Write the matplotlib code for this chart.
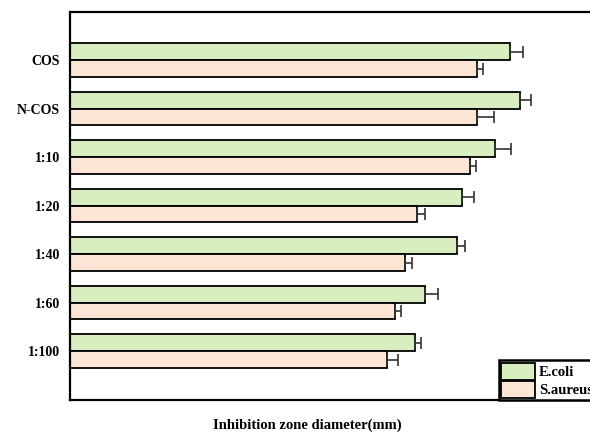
import matplotlib
matplotlib.use("Agg")
import matplotlib.pyplot as plt
import numpy as np

# inhibition zone diameters (mm), mean and SD per sample
samples = ["COS", "N-COS", "1:10", "1:20", "1:40", "1:60", "1:100"]
ecoli = [17.6, 18.0, 17.0, 15.7, 15.5, 14.2, 13.8]
ecoli_sd = [0.52, 0.44, 0.64, 0.48, 0.32, 0.52, 0.24]
saureus = [16.3, 16.3, 16.0, 13.9, 13.4, 13.0, 12.7]
saureus_sd = [0.24, 0.68, 0.24, 0.32, 0.28, 0.24, 0.44]

plt.rcParams["font.family"] = ["Liberation Serif", "DejaVu Serif"]
plt.rcParams["font.weight"] = "bold"

fig = plt.figure(figsize=(5.9, 4.38), dpi=100)
ax = fig.add_axes([70 / 590, 38 / 438, 550 / 590, 388 / 438])

y = np.arange(len(samples))
h = 0.35
err_kw = dict(ecolor="#333333", elinewidth=1.2, capsize=4.5, capthick=1.2)
zeros = np.zeros(len(samples))
ax.barh(y - h / 2, ecoli, h, color="#d8eec0", edgecolor="black", linewidth=1.3,
        xerr=[zeros, ecoli_sd], error_kw=err_kw, label="E.coli")
ax.barh(y + h / 2, saureus, h, color="#fde5d6", edgecolor="black", linewidth=1.3,
        xerr=[zeros, saureus_sd], error_kw=err_kw, label="S.aureus")

ax.set_xlim(0, 22)
ax.set_ylim(7.01, -0.99)
ax.set_yticks(y)
ax.set_yticklabels(samples, fontsize=10, fontweight="bold")
ax.tick_params(axis="y", length=0, pad=7)
ax.set_xticks([])
for side in ax.spines.values():
    side.set_linewidth(1.6)

fig.text(307 / 590, 13 / 438, "Inhibition zone diameter(mm)", ha="center",
         va="center", fontsize=10.5, fontweight="bold")

leg = ax.legend(loc="lower left", bbox_to_anchor=(499 / 590, 38 / 438),
                bbox_transform=fig.transFigure, fancybox=False, framealpha=1,
                edgecolor="black", borderpad=0.15, labelspacing=0.1,
                handlelength=2.3, handleheight=1.4, handletextpad=0.3,
                borderaxespad=0, prop={"size": 10.5, "weight": "bold"})
leg.get_frame().set_linewidth(1.8)

fig.savefig("out.png", dpi=100)
